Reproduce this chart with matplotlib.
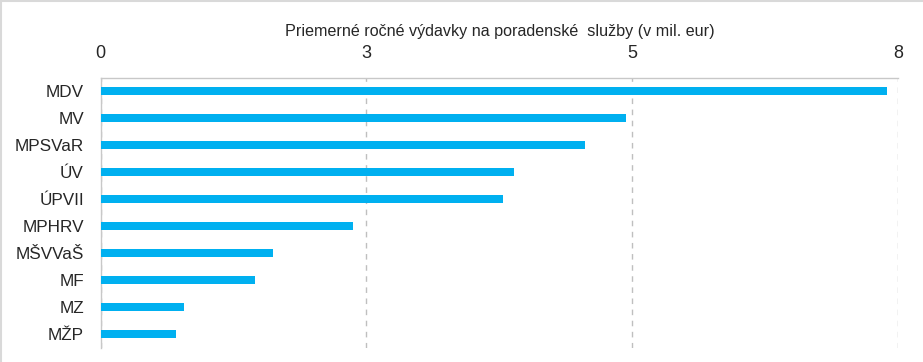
import matplotlib
matplotlib.use("Agg")
import matplotlib.pyplot as plt
import numpy as np
from matplotlib.ticker import FuncFormatter, FixedLocator
from matplotlib.lines import Line2D

categories = ["MDV", "MV", "MPSVaR", "ÚV", "ÚPVII", "MPHRV", "MŠVVaŠ", "MF", "MZ", "MŽP"]
values = [7.89, 5.27, 4.86, 4.15, 4.04, 2.53, 1.73, 1.55, 0.84, 0.76]
title = "Priemerné ročné výdavky na poradenské  služby (v mil. eur)"
x_max = 8

plt.rcParams['font.family'] = ["Liberation Sans", 'DejaVu Sans']

fig = plt.figure(figsize=(9.23, 3.62), dpi=100)
ax = fig.add_axes([100.5/923, 1-347.7/362, (898.3-100.5)/923, (347.7-77.7)/362])

y = np.arange(len(categories))
ax.barh(y, values, height=0.3, color="#00B0F0", zorder=3)
ax.set_ylim(len(categories)-0.5, -0.5)
ax.set_yticks(y)
ax.set_yticklabels(categories, fontsize=12.3, color="#262626")

ax.set_xlim(0, x_max)
ax.xaxis.set_major_locator(FixedLocator(np.linspace(0, x_max, 4)))
ax.xaxis.set_major_formatter(FuncFormatter(lambda v, p: f"{v:.0f}"))
ax.xaxis.tick_top()
ax.tick_params(axis='x', length=0, pad=11, labelsize=13, labelcolor="#262626")
ax.tick_params(axis='y', length=0, pad=12)
ax.grid(axis='x', color="#BFBFBF", linestyle=(0, (4, 4)), linewidth=1, zorder=0)
ax.xaxis.set_label_position('top')
ax.set_xlabel(title, fontsize=11.6, color="#262626", labelpad=7)

for s in ['bottom', 'right']:
    ax.spines[s].set_visible(False)
for s in ['top', 'left']:
    ax.spines[s].set_color("#C8C8C8")
    ax.spines[s].set_linewidth(1)

fig.add_artist(Line2D([0.001, 0.001], [0, 1], transform=fig.transFigure, color="#D9D9D9", lw=1.5))
fig.add_artist(Line2D([0, 1], [0.998, 0.998], transform=fig.transFigure, color="#D9D9D9", lw=1.5))

fig.savefig("out.png", dpi=100)
